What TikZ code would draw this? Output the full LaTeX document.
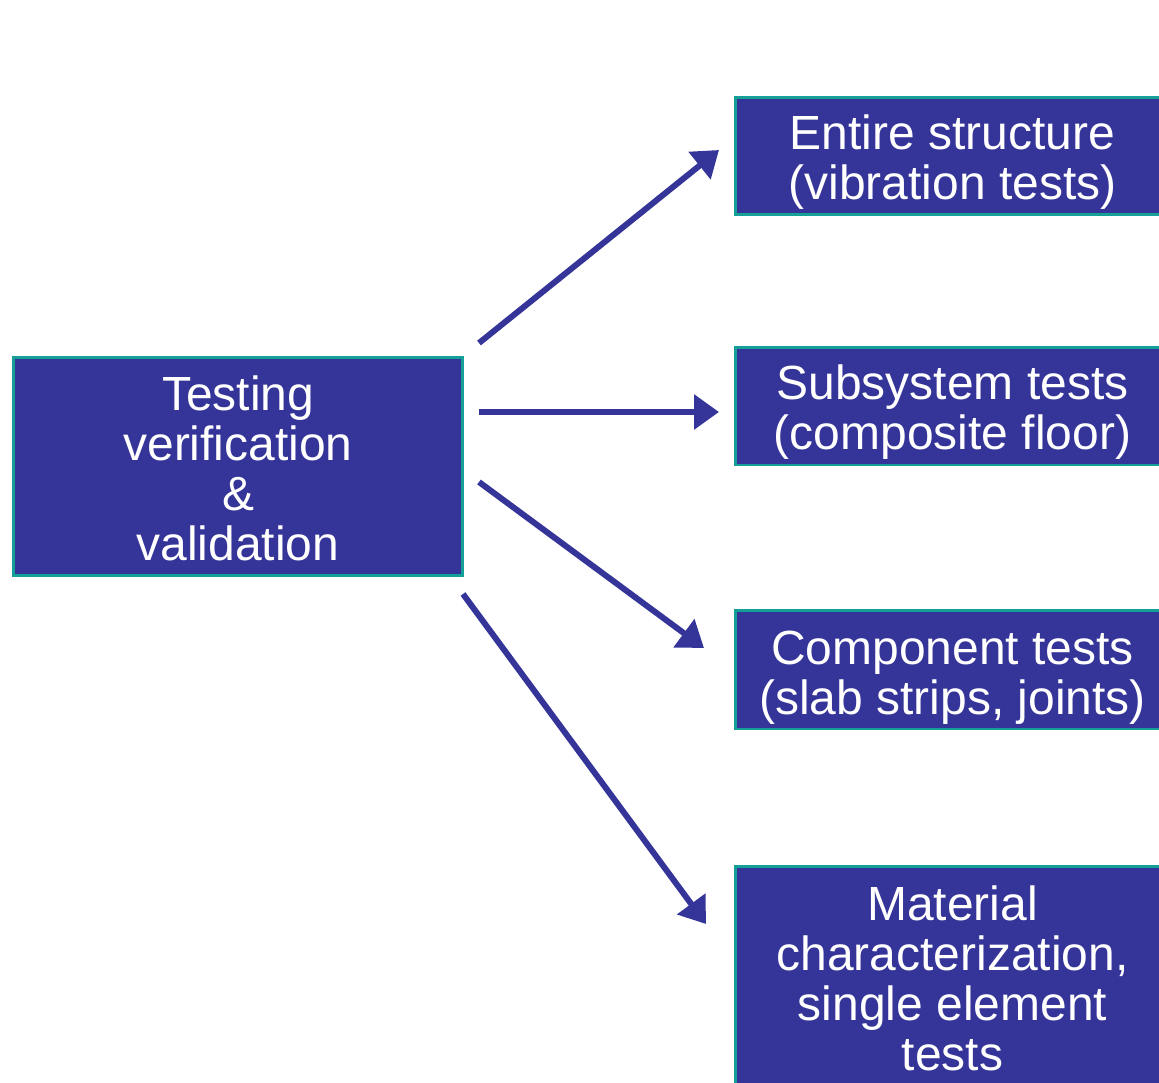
\documentclass[tikz,border=0pt]{standalone}
\usepackage{fontspec}
\setmainfont{Liberation Sans}
\usetikzlibrary{arrows.meta}
\definecolor{boxblue}{RGB}{53,52,153}
\definecolor{boxedge}{RGB}{20,160,150}
\newcommand*\lift[1]{\rule{0pt}{#1}}

\begin{document}
\begin{tikzpicture}[
	x=0.02cm, y=-0.02cm,
	>={Triangle[length=0.5cm,width=0.68cm]},
	box/.style={draw=boxedge, line width=1.7pt, fill=boxblue, text=white,
		align=center, inner sep=0pt,
		font=\fontsize{27.3}{28.5}\selectfont},
	link/.style={->, draw=boxblue, line width=3.4pt}]

	\useasboundingbox (0,0) rectangle (1159,1082);

	\node [box, minimum width=9cm, minimum height=4.38cm] (test) at (238,466.5)
		{\lift{22pt}Testing\\verification\\\&\\validation};

	\node [box, minimum width=8.7cm, minimum height=2.36cm] (whole) at (952.5,156)
		{\lift{27pt}Entire structure\\(vibration tests)};
	\node [box, minimum width=8.7cm, minimum height=2.36cm] (subsys) at (952.5,406)
		{\lift{27pt}Subsystem tests\\(composite floor)};
	\node [box, minimum width=8.7cm, minimum height=2.38cm] (comp) at (952.5,669.5)
		{\lift{28pt}Component tests\\(slab strips, joints)};
	\node [box, minimum width=8.7cm, minimum height=4.48cm] (mat) at (952.5,978)
		{Material\\characterization,\\single element\\tests};

	% free ends of the arrows
	\coordinate (A1) at (479,343);
	\coordinate (B1) at (719,150);
	\coordinate (A2) at (479,412);
	\coordinate (B2) at (719,412);
	\coordinate (A3) at (479,482);
	\coordinate (B3) at (704,648);
	\coordinate (A4) at (463,594);
	\coordinate (B4) at (706,924);

	\draw [link] (A1) -- (B1);
	\draw [link] (A2) -- (B2);
	\draw [link] (A3) -- (B3);
	\draw [link] (A4) -- (B4);

\end{tikzpicture}
\end{document}
